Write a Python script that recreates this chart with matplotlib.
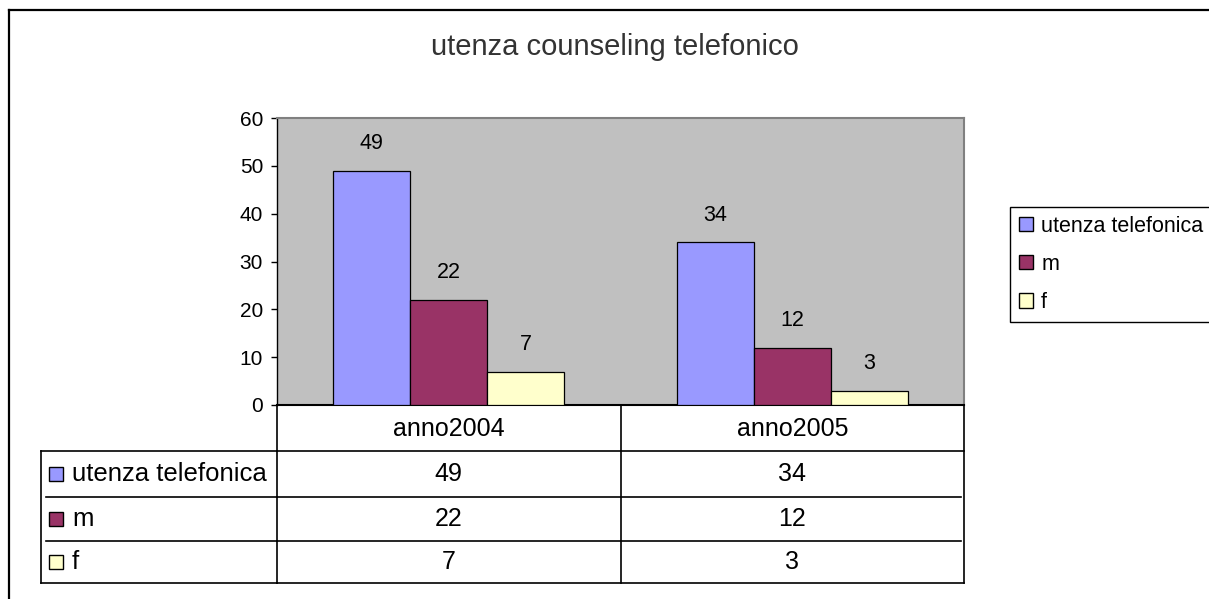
import numpy as np
import matplotlib.pyplot as plt
from matplotlib.patches import Patch, Rectangle
from matplotlib.lines import Line2D
from matplotlib.transforms import Affine2D, blended_transform_factory

plt.rcParams['font.family'] = ['Liberation Sans', 'DejaVu Sans']

# data
categories = ['anno2004', 'anno2005']
series = ['utenza telefonica', 'm', 'f']
values = {
    'utenza telefonica': [49, 34],
    'm': [22, 12],
    'f': [7, 3],
}
colors = ['#9999FF', '#993366', '#FFFFCC']
title = 'utenza counseling telefonico'

W, H = 1209, 599
fig = plt.figure(figsize=(W / 100, H / 100), dpi=100)

# pixel coords (top-left origin) helper
px = Affine2D().scale(1 / W, -1 / H).translate(0, 1) + fig.transFigure

L, R, T, B = 277, 964, 118, 405
ax = fig.add_axes([L / W, 1 - B / H, (R - L) / W, (B - T) / H])
ax.set_facecolor('#C0C0C0')

x = np.arange(len(categories))
bw = 0.224
for i, s in enumerate(series):
    xs = x + (i - 1) * bw
    ax.bar(xs, values[s], width=bw, color=colors[i], edgecolor='black', linewidth=0.9, zorder=3)
    for xi, v in zip(xs, values[s]):
        ax.annotate(str(v), (xi, v), xytext=(0, 27), textcoords='offset pixels',
                    ha='center', va='center', fontsize=15.5, zorder=4)

ax.set_xlim(-0.5, len(categories) - 0.5)
ax.set_ylim(0, 60)
ax.set_yticks(range(0, 61, 10))
ax.set_xticks([])
ax.tick_params(axis='y', direction='out', length=4, width=1, labelsize=15, pad=6)
for sp in ['top', 'right']:
    ax.spines[sp].set_color('#808080')
    ax.spines[sp].set_linewidth(1.5)
ax.spines['left'].set_linewidth(1)
ax.spines['bottom'].set_linewidth(1.5)

# table under the plot
bt = blended_transform_factory(ax.transData, px)
row_tops = [451, 497, 541]
row_bots = [497, 541, 583]

def pline(xs, ys, tr, lw=1.2, color='black'):
    fig.add_artist(Line2D(xs, ys, transform=tr, color=color, linewidth=lw))

# vertical column lines
for xv in np.arange(len(categories) + 1) - 0.5:
    pline([xv, xv], [405, 583], bt)
pline([41, 41], [451, 583], px)
# header bottom and table bottom
pline([41, L], [451, 451], px)
pline([-0.5, len(categories) - 0.5], [451, 451], bt)
pline([41, L], [583, 583], px)
pline([-0.5, len(categories) - 0.5], [583, 583], bt)
# inner row separators
for yy in row_tops[1:]:
    pline([46, L], [yy, yy], px)
    pline([-0.5, len(categories) - 0.5 - 0.01], [yy, yy], bt)

for xi, c in zip(x, categories):
    fig.text(xi, 429, c, transform=bt, ha='center', va='center', fontsize=18)

for i, s in enumerate(series):
    yc = (row_tops[i] + row_bots[i]) / 2
    fig.add_artist(Rectangle((49, yc - 7), 14, 14, transform=px, facecolor=colors[i],
                             edgecolor='black', linewidth=1))
    fig.text(72, yc, s, transform=px, ha='left', va='center', fontsize=18.5)
    for xi, v in zip(x, values[s]):
        fig.text(xi, yc, str(v), transform=bt, ha='center', va='center', fontsize=18)

# legend, partly cut at right edge like the original
handles = [Patch(facecolor=c, edgecolor='black', linewidth=1) for c in colors]
leg = fig.legend(handles, series, loc='upper left', bbox_to_anchor=(1010 / W, 1 - 207 / H),
                 fontsize=15.5, frameon=True, fancybox=False, framealpha=1,
                 handlelength=0.65, handleheight=0.65, handletextpad=0.4,
                 labelspacing=0.8, borderpad=0.4, borderaxespad=0)
leg.get_frame().set_edgecolor('black')
leg.get_frame().set_linewidth(1)

fig.text(615, 47, title, transform=px, ha='center', va='center', fontsize=21, color='#333333')

# outer chart border (left and top visible)
pline([9, 9], [10, 599], px, lw=1.6)
pline([9, 1209], [10, 10], px, lw=1.6)

fig.savefig('out.png', dpi=100)
